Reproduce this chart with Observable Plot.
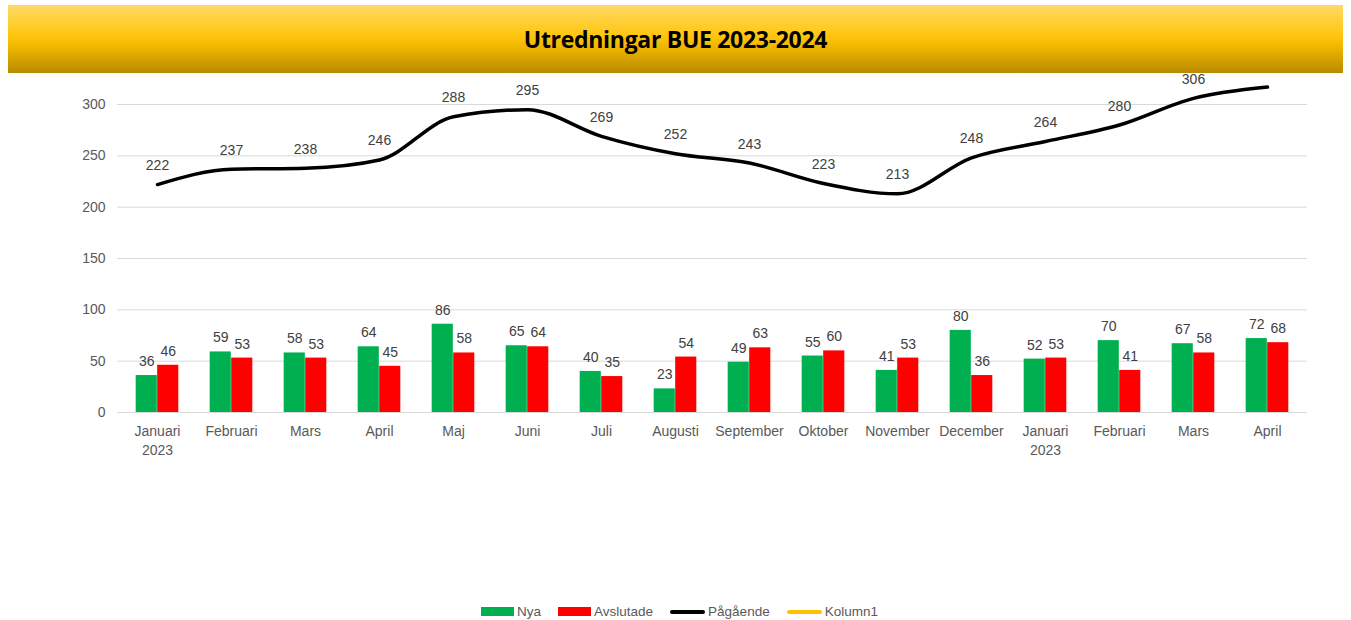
<!DOCTYPE html>
<html>
<head>
<meta charset="utf-8">
<script src="https://cdn.jsdelivr.net/npm/d3@7"></script>
<script src="https://cdn.jsdelivr.net/npm/@observablehq/plot@0.6"></script>
<style>
  html, body { margin: 0; padding: 0; background: #fff; width: 1351px; height: 620px; overflow: hidden; font-family: "Liberation Sans", Arial, sans-serif; }
  #banner {
    position: absolute; left: 8px; top: 5px; width: 1335px; height: 68px; z-index: 2;
    background: linear-gradient(to bottom, #ffd966 0%, #ffc60f 45%, #f2b800 60%, #b88a00 100%);
    display: flex; align-items: center; justify-content: center;
  }
  #banner span { font-family: "Open Sans", "Liberation Sans", sans-serif; font-weight: 700; font-size: 23px; color: #000; letter-spacing: -0.3px; display: inline-block; }
  #chart { position: absolute; left: 0; top: 73px; z-index: 1; }
  #chart svg { overflow: visible; }
  #legend { position: absolute; top: 604px; left: 4px; width: 1351px; display: flex; justify-content: center; gap: 17px; font-size: 13.5px; color: #595959; z-index: 1; }
  .item { display: flex; align-items: center; gap: 3px; }
  .sw { width: 33px; height: 9px; }
  .ln { width: 35px; height: 4px; border-radius: 2px; }
</style>
</head>
<body>
<div id="banner"><span>Utredningar BUE 2023-2024</span></div>
<div id="chart"></div>
<div id="legend"></div>
<script>
const months = ["Januari","Februari","Mars","April","Maj","Juni","Juli","Augusti","September","Oktober","November","December","Januari","Februari","Mars","April"];
const years = ["2023","","","","","","","","","","","","2023","","",""];
const nya = [36,59,58,64,86,65,40,23,49,55,41,80,52,70,67,72];
const avslutade = [46,53,53,45,58,64,35,54,63,60,53,36,53,41,58,68];
const pagaende = [222,237,238,246,288,295,269,252,243,223,213,248,264,280,306,317];
const yTicks = [0,50,100,150,200,250,300];
const seriesNames = ["Nya","Avslutade","Pågående","Kolumn1"];
const seriesColors = ["#00b050","#ff0000","#000000","#ffc000"];

const idx = months.map((_, i) => i);
const rows = idx.map(i => ({i, nya: nya[i], avslutade: avslutade[i], pagaende: pagaende[i]}));

const W = 1351, H = 397;
const mL = 117, mR = 44, mT = 31, mB = 58;
const bw = (W - mL - mR) / months.length;
const half = 21.5;
const outer = bw / 2 - half;

const chart = Plot.plot({
  width: W, height: H,
  marginLeft: mL, marginRight: mR, marginTop: mT, marginBottom: mB,
  style: { fontFamily: "'Liberation Sans', Arial, sans-serif", fontSize: "14px", color: "#595959", background: "transparent" },
  x: { type: "band", domain: idx, padding: 0 },
  y: { domain: [0, 300] },
  marks: [
    Plot.gridY(yTicks, { stroke: "#d9d9d9", strokeOpacity: 1, strokeWidth: 1 }),
    Plot.axisY(yTicks, { tickSize: 0, tickPadding: 12, label: null, fill: "#595959", fontSize: 14 }),
    Plot.axisX({ tickSize: 0, tickPadding: 11, label: null, fill: "#595959", fontSize: 14, lineHeight: 1.3,
      tickFormat: i => years[i] ? months[i] + "\n" + years[i] : months[i] }),
    Plot.barY(rows, { x: "i", y: "nya", fill: seriesColors[0], insetLeft: outer, insetRight: bw / 2 }),
    Plot.barY(rows, { x: "i", y: "avslutade", fill: seriesColors[1], insetLeft: bw / 2, insetRight: outer }),
    Plot.text(rows, { x: "i", y: "nya", text: "nya", dx: -half / 2, dy: -14, fill: "#404040", fontSize: 14 }),
    Plot.text(rows, { x: "i", y: "avslutade", text: "avslutade", dx: half / 2, dy: -14, fill: "#404040", fontSize: 14 }),
    Plot.lineY(rows, { x: "i", y: "pagaende", stroke: seriesColors[2], strokeWidth: 3.5, curve: "monotone-x", clip: false }),
    Plot.text(rows, { x: "i", y: "pagaende", text: "pagaende", dy: -19, fill: "#404040", fontSize: 14 })
  ]
});
document.getElementById("chart").appendChild(chart);

const legend = document.getElementById("legend");
seriesNames.forEach((name, k) => {
  const item = document.createElement("div");
  item.className = "item";
  const sw = document.createElement("div");
  sw.className = k < 2 ? "sw" : "ln";
  sw.style.background = seriesColors[k];
  const t = document.createElement("span");
  t.textContent = name;
  item.appendChild(sw); item.appendChild(t);
  legend.appendChild(item);
});
</script>
</body>
</html>
